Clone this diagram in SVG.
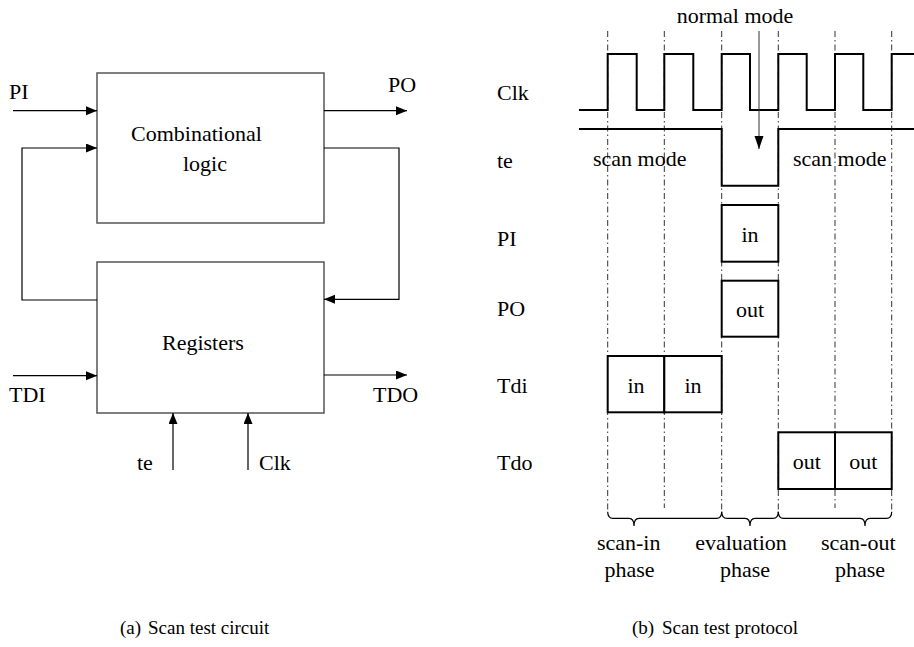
<svg xmlns="http://www.w3.org/2000/svg" width="914" height="647" viewBox="0 0 914 647">
<defs>
<marker id="ah" markerUnits="userSpaceOnUse" markerWidth="12" markerHeight="10" refX="11" refY="4.5" orient="auto">
<path d="M0,0 L11,4.5 L0,9 z" fill="#000"/>
</marker>
<marker id="ahBig" markerUnits="userSpaceOnUse" markerWidth="14" markerHeight="10" refX="13" refY="4.5" orient="auto">
<path d="M0,0 L13,4.5 L0,9 z" fill="#000"/>
</marker>
<style>
text{font-size:22px;fill:#000}
.cap{font-size:19px}
.box{fill:#fff;stroke:#555;stroke-width:1.5}
.wire{fill:none;stroke:#000;stroke-width:1.2}
.dd{stroke:#333;stroke-width:1;stroke-dasharray:6,3,1.5,3;fill:none}
.sig{fill:none;stroke:#000;stroke-width:2}
.cell{fill:#fff;stroke:#000;stroke-width:2}
.brace{fill:none;stroke:#000;stroke-width:1.2}
</style>
</defs>
<rect width="914" height="647" fill="#fff"/>
<g font-family="Liberation Serif, Times New Roman, serif">

<!-- (a) Scan test circuit -->
<g id="comb">
<rect class="box" x="97" y="73" width="227" height="150"/>
<text x="131" y="141">Combinational</text>
<text x="183" y="171">logic</text>
</g>
<g id="regs">
<rect class="box" x="97" y="262" width="227" height="151"/>
<text x="162" y="350">Registers</text>
</g>
<g id="circuit-labels">
<text x="9" y="99">PI</text>
<text x="388" y="92">PO</text>
<text x="9" y="402">TDI</text>
<text x="373" y="402">TDO</text>
<text x="137" y="470">te</text>
<text x="259" y="470">Clk</text>
</g>
<g id="circuit-connectors">
<line class="wire" x1="13" y1="110.7" x2="97" y2="110.7" marker-end="url(#ah)"/>
<path class="wire" d="M97,300 H22 V148 H97" marker-end="url(#ah)"/>
<line class="wire" x1="324" y1="110.7" x2="407" y2="110.7" marker-end="url(#ah)"/>
<path class="wire" d="M324,148 H399 V299.3 H324" marker-end="url(#ah)"/>
<line class="wire" x1="13" y1="375.7" x2="97" y2="375.7" marker-end="url(#ah)"/>
<line class="wire" x1="324" y1="375" x2="407" y2="375" marker-end="url(#ah)"/>
<line class="wire" x1="173" y1="470" x2="173" y2="413" marker-end="url(#ah)"/>
<line class="wire" x1="248" y1="470" x2="248" y2="413" marker-end="url(#ah)"/>
</g>

<!-- (b) Scan test protocol -->
<g id="gridlines">
<line class="dd" x1="607.7" y1="31" x2="607.7" y2="512"/>
<line class="dd" x1="664.3" y1="31" x2="664.3" y2="508"/>
<line class="dd" x1="721.7" y1="31" x2="721.7" y2="512"/>
<line class="dd" x1="778.3" y1="31" x2="778.3" y2="512"/>
<line class="dd" x1="835" y1="31" x2="835" y2="508"/>
<line class="dd" x1="891.7" y1="31" x2="891.7" y2="512"/>
</g>
<g id="signal-labels">
<text x="497" y="100">Clk</text>
<text x="497" y="168">te</text>
<text x="497" y="246">PI</text>
<text x="497" y="316">PO</text>
<text x="497" y="393">Tdi</text>
<text x="497" y="470">Tdo</text>
</g>
<g id="clk-wave">
<path class="sig" d="M579,110 H607.7 V54 H636.7 V110 H664.3 V54 H693.3 V110 H721.7 V54 H750 V110 H778.3 V54 H806.7 V110 H835 V54 H863.3 V110 H891.7 V54 H914"/>
</g>
<g id="te-wave">
<path class="sig" d="M579,129 H721.7 V185.7 H778.3 V129 H914"/>
<text x="593" y="166">scan mode</text>
<text x="793" y="166">scan mode</text>
</g>
<g id="normal-mode">
<text x="735" y="23" text-anchor="middle">normal mode</text>
<line x1="759" y1="31" x2="759" y2="149" stroke="#333" stroke-width="1" marker-end="url(#ahBig)"/>
</g>
<g id="pi-cell">
<rect class="cell" x="721.7" y="205" width="56.6" height="56.7"/>
<text x="750" y="242" text-anchor="middle">in</text>
</g>
<g id="po-cell">
<rect class="cell" x="721.7" y="280.7" width="56.6" height="56"/>
<text x="750" y="317" text-anchor="middle">out</text>
</g>
<g id="tdi-cells">
<rect class="cell" x="607.7" y="356" width="56.6" height="56.3"/>
<rect class="cell" x="664.3" y="356" width="57.4" height="56.3"/>
<text x="636" y="393" text-anchor="middle">in</text>
<text x="693" y="393" text-anchor="middle">in</text>
</g>
<g id="tdo-cells">
<rect class="cell" x="778.3" y="432.3" width="56.7" height="56.7"/>
<rect class="cell" x="835" y="432.3" width="56.7" height="56.7"/>
<text x="806.7" y="469" text-anchor="middle">out</text>
<text x="863.3" y="469" text-anchor="middle">out</text>
</g>
<g id="phases">
<path class="brace" d="M607.7,511.7 Q607.7,518.3 613,518.3 H629 Q634,518.3 634,526 Q634,518.3 639,518.3 H716.5 Q721.7,518.3 721.7,511.7"/>
<path class="brace" d="M721.7,511.7 Q721.7,518.3 727,518.3 H745 Q750,518.3 750,526 Q750,518.3 755,518.3 H773 Q778.3,518.3 778.3,511.7"/>
<path class="brace" d="M778.3,511.7 Q778.3,518.3 783.5,518.3 H860 Q865,518.3 865,526 Q865,518.3 870,518.3 H886.5 Q891.7,518.3 891.7,511.7"/>
<text x="628.7" y="550" text-anchor="middle">scan-in</text>
<text x="629.5" y="577" text-anchor="middle">phase</text>
<text x="741" y="550" text-anchor="middle">evaluation</text>
<text x="745" y="577" text-anchor="middle">phase</text>
<text x="858.3" y="550" text-anchor="middle">scan-out</text>
<text x="860" y="577" text-anchor="middle">phase</text>
</g>
<g id="captions">
<text class="cap" x="120" y="634">(a)</text>
<text class="cap" x="148" y="634">Scan test circuit</text>
<text class="cap" x="632" y="634">(b)</text>
<text class="cap" x="662" y="634">Scan test protocol</text>
</g>
</g>
</svg>
